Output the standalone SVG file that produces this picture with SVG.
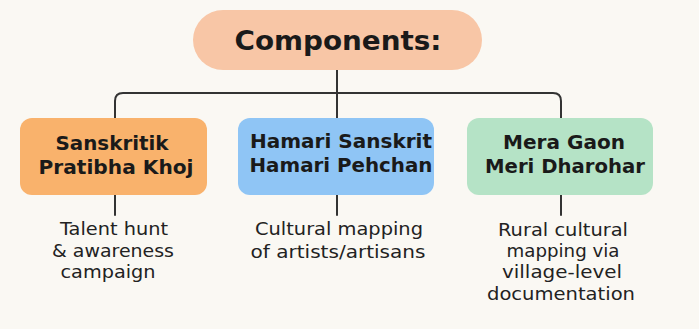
<svg xmlns="http://www.w3.org/2000/svg" width="699" height="329" viewBox="0 0 699 329">
<style>
.bg{fill:#faf8f3}
.conn{fill:none;stroke:#333;stroke-width:2;stroke-linecap:round}
.title{font-family:"DejaVu Sans",sans-serif;font-weight:bold;font-size:26px;fill:#1a1a1a;text-anchor:middle}
.lbl{font-family:"DejaVu Sans",sans-serif;font-weight:bold;font-size:19px;fill:#1a1a1a;text-anchor:middle}
.desc{font-family:"DejaVu Sans",sans-serif;font-size:18px;fill:#222;text-anchor:middle}
</style>
<rect class="bg" x="0" y="0" width="699" height="329"/>
<g id="connectors">
<path class="conn" d="M337 70 V118"/>
<path class="conn" d="M115 118 V101 Q115 93 123 93 H553 Q561 93 561 101 V118"/>
<path class="conn" d="M115 195 V215"/>
<path class="conn" d="M337 195 V215"/>
<path class="conn" d="M561 195 V215"/>
</g>
<g id="components">
<rect x="193" y="10" width="289" height="60" rx="30" fill="#f8c6a6"/>
<text class="title" x="338" y="50" textLength="207" lengthAdjust="spacingAndGlyphs">Components:</text>
</g>
<g id="sanskritik">
<rect x="20" y="118" width="187" height="77" rx="12" fill="#f9b26c"/>
<text class="lbl" x="112" y="150" textLength="113" lengthAdjust="spacingAndGlyphs">Sanskritik</text>
<text class="lbl" x="116" y="174" textLength="155" lengthAdjust="spacingAndGlyphs">Pratibha Khoj</text>
</g>
<g id="hamari">
<rect x="238" y="118" width="196" height="77" rx="12" fill="#8fc5f5"/>
<text class="lbl" x="341" y="148" textLength="182" lengthAdjust="spacingAndGlyphs">Hamari Sanskrit</text>
<text class="lbl" x="341" y="172" textLength="183" lengthAdjust="spacingAndGlyphs">Hamari Pehchan</text>
</g>
<g id="meragaon">
<rect x="467" y="118" width="186" height="77" rx="12" fill="#b5e3c6"/>
<text class="lbl" x="564" y="149" textLength="122" lengthAdjust="spacingAndGlyphs">Mera Gaon</text>
<text class="lbl" x="565" y="173" textLength="160" lengthAdjust="spacingAndGlyphs">Meri Dharohar</text>
</g>
<g id="desc1">
<text class="desc" x="114" y="235" textLength="108" lengthAdjust="spacingAndGlyphs">Talent hunt</text>
<text class="desc" x="113" y="257" textLength="122" lengthAdjust="spacingAndGlyphs">&amp; awareness</text>
<text class="desc" x="108" y="278" textLength="95" lengthAdjust="spacingAndGlyphs">campaign</text>
</g>
<g id="desc2">
<text class="desc" x="339" y="235" textLength="168" lengthAdjust="spacingAndGlyphs">Cultural mapping</text>
<text class="desc" x="338" y="258" textLength="175" lengthAdjust="spacingAndGlyphs">of artists/artisans</text>
</g>
<g id="desc3">
<text class="desc" x="563" y="236" textLength="130" lengthAdjust="spacingAndGlyphs">Rural cultural</text>
<text class="desc" x="563" y="257" textLength="113" lengthAdjust="spacingAndGlyphs">mapping via</text>
<text class="desc" x="562" y="278" textLength="120" lengthAdjust="spacingAndGlyphs">village-level</text>
<text class="desc" x="561" y="300" textLength="148" lengthAdjust="spacingAndGlyphs">documentation</text>
</g>
</svg>
